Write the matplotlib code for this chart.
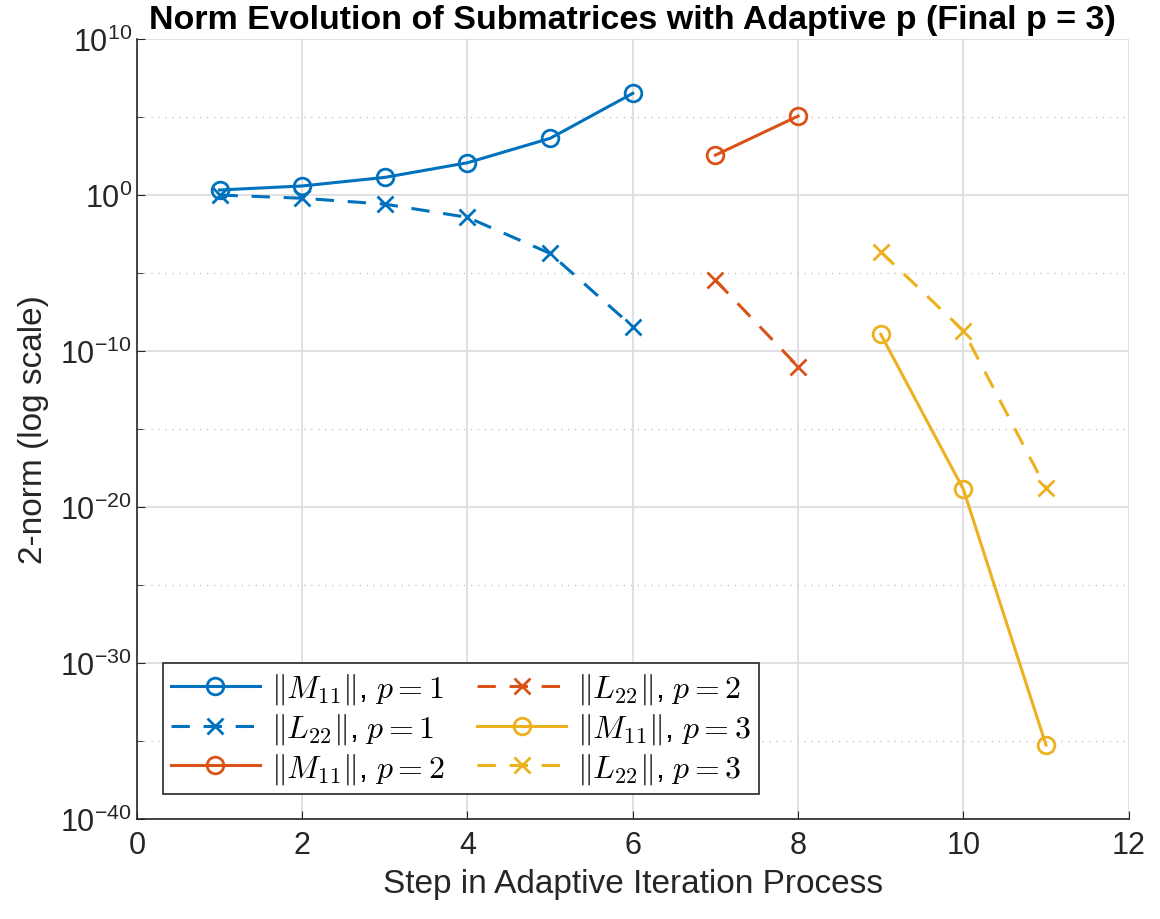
import matplotlib
matplotlib.use("Agg")
import matplotlib.pyplot as plt

plt.rcParams['font.family'] = ['Liberation Sans', 'DejaVu Sans']
plt.rcParams['mathtext.fontset'] = 'cm'

# steps per phase
steps_p1 = [1, 2, 3, 4, 5, 6]
steps_p2 = [7, 8]
steps_p3 = [9, 10, 11]

# 2-norms
m11_p1 = [2.1, 3.8, 13.5, 117, 4.3e3, 3.3e6]
l22_p1 = [1.0, 0.62, 0.26, 0.037, 1.8e-4, 3.6e-9]
m11_p2 = [3.6e2, 1.15e5]
l22_p2 = [3.5e-6, 1.0e-11]
m11_p3 = [1.2e-9, 1.35e-19, 5.5e-36]
l22_p3 = [2.3e-4, 2.0e-9, 1.6e-19]

blue, orange, yellow = '#0072BD', '#D95319', '#EDB120'

fig = plt.figure(figsize=(11.6, 9.2), dpi=100)
ax = fig.add_axes([0.118, 0.1087, 0.855, 0.8478])

dash = (6, 4.5)
common = dict(lw=2.2, ms=12, mew=2)
ax.plot(steps_p1, m11_p1, '-o', color=blue, mfc='none', label=r'$\|M_{11}\|$, $p=1$', **common)
ax.plot(steps_p1, l22_p1, '--x', color=blue, dashes=dash, label=r'$\|L_{22}\|$, $p=1$', **common)
ax.plot(steps_p2, m11_p2, '-o', color=orange, mfc='none', label=r'$\|M_{11}\|$, $p=2$', **common)
ax.plot(steps_p2, l22_p2, '--x', color=orange, dashes=dash, label=r'$\|L_{22}\|$, $p=2$', **common)
ax.plot(steps_p3, m11_p3, '-o', color=yellow, mfc='none', label=r'$\|M_{11}\|$, $p=3$', **common)
ax.plot(steps_p3, l22_p3, '--x', color=yellow, dashes=dash, label=r'$\|L_{22}\|$, $p=3$', **common)

ax.set_yscale('log')
ax.set_ylim(1e-40, 1e10)
ax.set_xlim(0, 12)
ax.set_xticks(range(0, 13, 2))
ax.set_yticks([10.0 ** k for k in range(-40, 11, 10)])
ax.set_yticks([10.0 ** k for k in range(-35, 10, 10)], minor=True)
ax.set_yticklabels([r'$\mathdefault{10^{%d}}$' % k for k in range(-40, 11, 10)])
ax.tick_params(which='both', direction='in', labelsize=22, colors='#262626', length=6)
ax.tick_params(which='minor', length=4)
ax.tick_params(axis='y', which='minor', labelleft=False)
ax.tick_params(axis='x', pad=8)

ax.grid(True, which='major', color='#dcdcdc', lw=1.2)
ax.grid(True, which='minor', axis='y', color='#c8c8c8', ls=(0, (1, 4)), lw=1)
ax.set_axisbelow(True)
for s in ['top', 'right']:
    ax.spines[s].set_visible(False)
for s in ['left', 'bottom']:
    ax.spines[s].set_color('#262626')
    ax.spines[s].set_linewidth(1.2)

ax.set_xlabel('Step in Adaptive Iteration Process', fontsize=24, color='#262626', labelpad=6)
ax.set_ylabel('2-norm (log scale)', fontsize=24, color='#262626', labelpad=8)
ax.set_title('Norm Evolution of Submatrices with Adaptive p (Final p = 3)',
             fontsize=24.5, fontweight='bold', pad=8, x=0.5)

leg = ax.legend(loc='lower left', ncol=2, fontsize=23, fancybox=False,
                edgecolor='#262626', framealpha=1, handlelength=2.8,
                columnspacing=1.0, handletextpad=0.35, borderpad=0.25,
                labelspacing=0.15, borderaxespad=0,
                bbox_to_anchor=(0.026, 0.032))
leg.get_frame().set_linewidth(1.2)

fig.savefig('out.png', dpi=100)
